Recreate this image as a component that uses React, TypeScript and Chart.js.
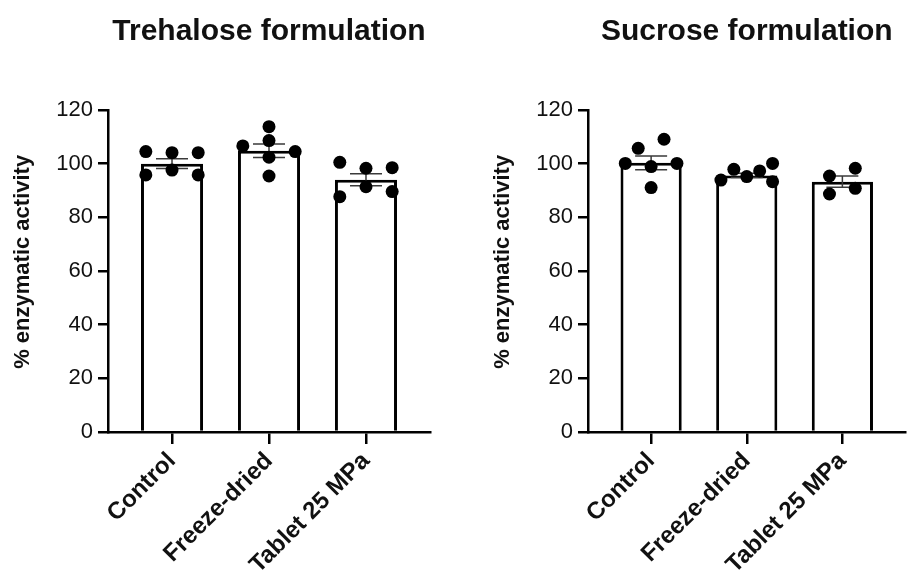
import React, { useEffect, useRef } from "react";
import { Chart, registerables } from "chart.js";

Chart.register(...registerables);

// ---------- data ----------
const categories = ["Control", "Freeze-dried", "Tablet 25 MPa"];
const yMin = 0;
const yMax = 120;
const yStep = 20;

// Trehalose formulation
const trehaloseMeans = [100.0, 104.8, 94.0];
const trehaloseSems = [1.8, 2.5, 2.2];
const trehaloseControl = [104.5, 104.1, 104.1, 95.8, 97.6, 95.8];
const trehaloseControlLanes = [-1, 0, 1, -1, 0, 1];
const trehaloseFreeze = [113.8, 108.6, 106.6, 104.5, 102.4, 95.4];
const trehaloseFreezeLanes = [0, 0, -1, 1, 0, 0];
const trehaloseTablet = [100.5, 98.3, 98.5, 91.4, 87.7, 89.6];
const trehaloseTabletLanes = [-1, 0, 1, 0, -1, 1];

// Sucrose formulation
const sucroseMeans = [100.3, 95.6, 93.3];
const sucroseSems = [2.6, 0.8, 2.1];
const sucroseControl = [105.7, 109.1, 100.1, 98.9, 100.1, 91.1];
const sucroseControlLanes = [-0.5, 0.5, -1, 0, 1, 0];
const sucroseFreeze = [97.9, 97.3, 100.1, 95.2, 93.9, 93.3];
const sucroseFreezeLanes = [-0.5, 0.5, 1, 0, -1, 1];
const sucroseTablet = [95.4, 98.3, 88.7, 90.8];
const sucroseTabletLanes = [-0.5, 0.5, -0.5, 0.5];

const yTitle = "% enzymatic activity";

const LANE_STEP = 0.27;
const FONT = "'Liberation Sans', Arial, Helvetica, sans-serif";
Chart.defaults.font.family = FONT;
Chart.defaults.color = "#111";

const errorBarPlugin = {
  id: "errorBars",
  afterDatasetDraw(chart: any, args: any) {
    const ds = chart.data.datasets[args.index];
    if (!ds.sems) return;
    const yScale = chart.scales.y;
    const ctx = chart.ctx;
    ctx.save();
    ctx.strokeStyle = "#3a3a3a";
    ctx.lineWidth = 1.5;
    args.meta.data.forEach((el: any, i: number) => {
      const mean = ds.data[i].y;
      const hi = yScale.getPixelForValue(mean + ds.sems[i]);
      const lo = yScale.getPixelForValue(mean - ds.sems[i]);
      const x = el.x;
      ctx.beginPath();
      ctx.moveTo(x, hi);
      ctx.lineTo(x, lo);
      ctx.moveTo(x - 16, hi);
      ctx.lineTo(x + 16, hi);
      ctx.moveTo(x - 16, lo);
      ctx.lineTo(x + 16, lo);
      ctx.stroke();
    });
    ctx.restore();
  },
};

type PanelProps = {
  title: string;
  means: number[];
  sems: number[];
  groups: number[][];
  lanes: number[][];
  left: number;
  width: number;
  rightPad: number;
};

function Panel({ title, means, sems, groups, lanes, left, width, rightPad }: PanelProps) {
  const ref = useRef<HTMLCanvasElement>(null);
  useEffect(() => {
    if (!ref.current) return;
    const barData = means.map((m, i) => ({ x: i, y: m }));
    const pts: { x: number; y: number }[] = [];
    groups.forEach((vals, gi) => {
      vals.forEach((v, j) => pts.push({ x: gi + lanes[gi][j] * LANE_STEP, y: v }));
    });
    const chart = new Chart(ref.current, {
      type: "bar",
      data: {
        datasets: [
          {
            type: "bar",
            data: barData as any,
            backgroundColor: "#ffffff",
            borderColor: "#000000",
            borderWidth: 3,
            barPercentage: 0.64,
            categoryPercentage: 1,
            order: 2,
            sems,
          } as any,
          {
            type: "scatter",
            data: pts as any,
            backgroundColor: "#000000",
            borderWidth: 0,
            pointRadius: 6.5,
            pointHoverRadius: 6.5,
            showLine: false,
            order: 1,
          } as any,
        ],
      },
      options: {
        animation: false,
        responsive: false,
        layout: { padding: { left: 0, right: rightPad, top: 0, bottom: 0 } },
        plugins: {
          legend: { display: false },
          tooltip: { enabled: false },
          title: {
            display: true,
            text: title,
            fullSize: false,
            color: "#111",
            font: { size: 30, weight: "bold", family: FONT },
            padding: { top: 14, bottom: 60 },
          },
        },
        scales: {
          x: {
            type: "linear",
            min: -0.66,
            max: categories.length - 1 + 0.66,
            offset: false,
            afterBuildTicks: (s: any) => {
              s.ticks = categories.map((_, i) => ({ value: i }));
            },
            afterFit: (s: any) => {
              s.height = 145;
            },
            ticks: {
              autoSkip: false,
              minRotation: 45,
              maxRotation: 45,
              padding: 3,
              color: "#111",
              font: { size: 24, weight: "bold", family: FONT },
              callback: (v: any) => categories[v as number] ?? "",
            },
            grid: {
              display: true,
              offset: false,
              drawOnChartArea: false,
              drawTicks: true,
              tickLength: 12,
              color: "#000",
              lineWidth: 2.5,
            },
            border: { display: true, color: "#000", width: 2.5 },
          },
          y: {
            type: "linear",
            min: yMin,
            max: yMax,
            afterFit: (s: any) => {
              s.width = 108;
            },
            ticks: {
              stepSize: yStep,
              padding: 5,
              color: "#111",
              font: { size: 22, family: FONT },
            },
            title: {
              display: true,
              text: "   " + yTitle,
              color: "#111",
              font: { size: 22, weight: "bold", family: FONT },
              padding: { top: 10, bottom: 0 },
            },
            grid: {
              display: true,
              drawOnChartArea: false,
              drawTicks: true,
              tickLength: 10,
              color: "#000",
              lineWidth: 2.5,
            },
            border: { display: true, color: "#000", width: 2.5 },
          },
        },
      } as any,
      plugins: [errorBarPlugin as any],
    });
    return () => chart.destroy();
  }, []);
  return (
    <canvas
      ref={ref}
      width={width}
      height={577}
      style={{ position: "absolute", left, top: 0, width, height: 577 }}
    />
  );
}

export default function App() {
  return (
    <div
      style={{
        position: "fixed",
        left: 0,
        top: 0,
        width: 910,
        height: 577,
        overflow: "hidden",
        background: "#fff",
      }}
    >
      <Panel
        title="Trehalose formulation"
        means={trehaloseMeans}
        sems={trehaloseSems}
        groups={[trehaloseControl, trehaloseFreeze, trehaloseTablet]}
        lanes={[trehaloseControlLanes, trehaloseFreezeLanes, trehaloseTabletLanes]}
        left={0}
        width={460}
        rightPad={30}
      />
      <Panel
        title="Sucrose formulation"
        means={sucroseMeans}
        sems={sucroseSems}
        groups={[sucroseControl, sucroseFreeze, sucroseTablet]}
        lanes={[sucroseControlLanes, sucroseFreezeLanes, sucroseTabletLanes]}
        left={480}
        width={432}
        rightPad={1}
      />
    </div>
  );
}
